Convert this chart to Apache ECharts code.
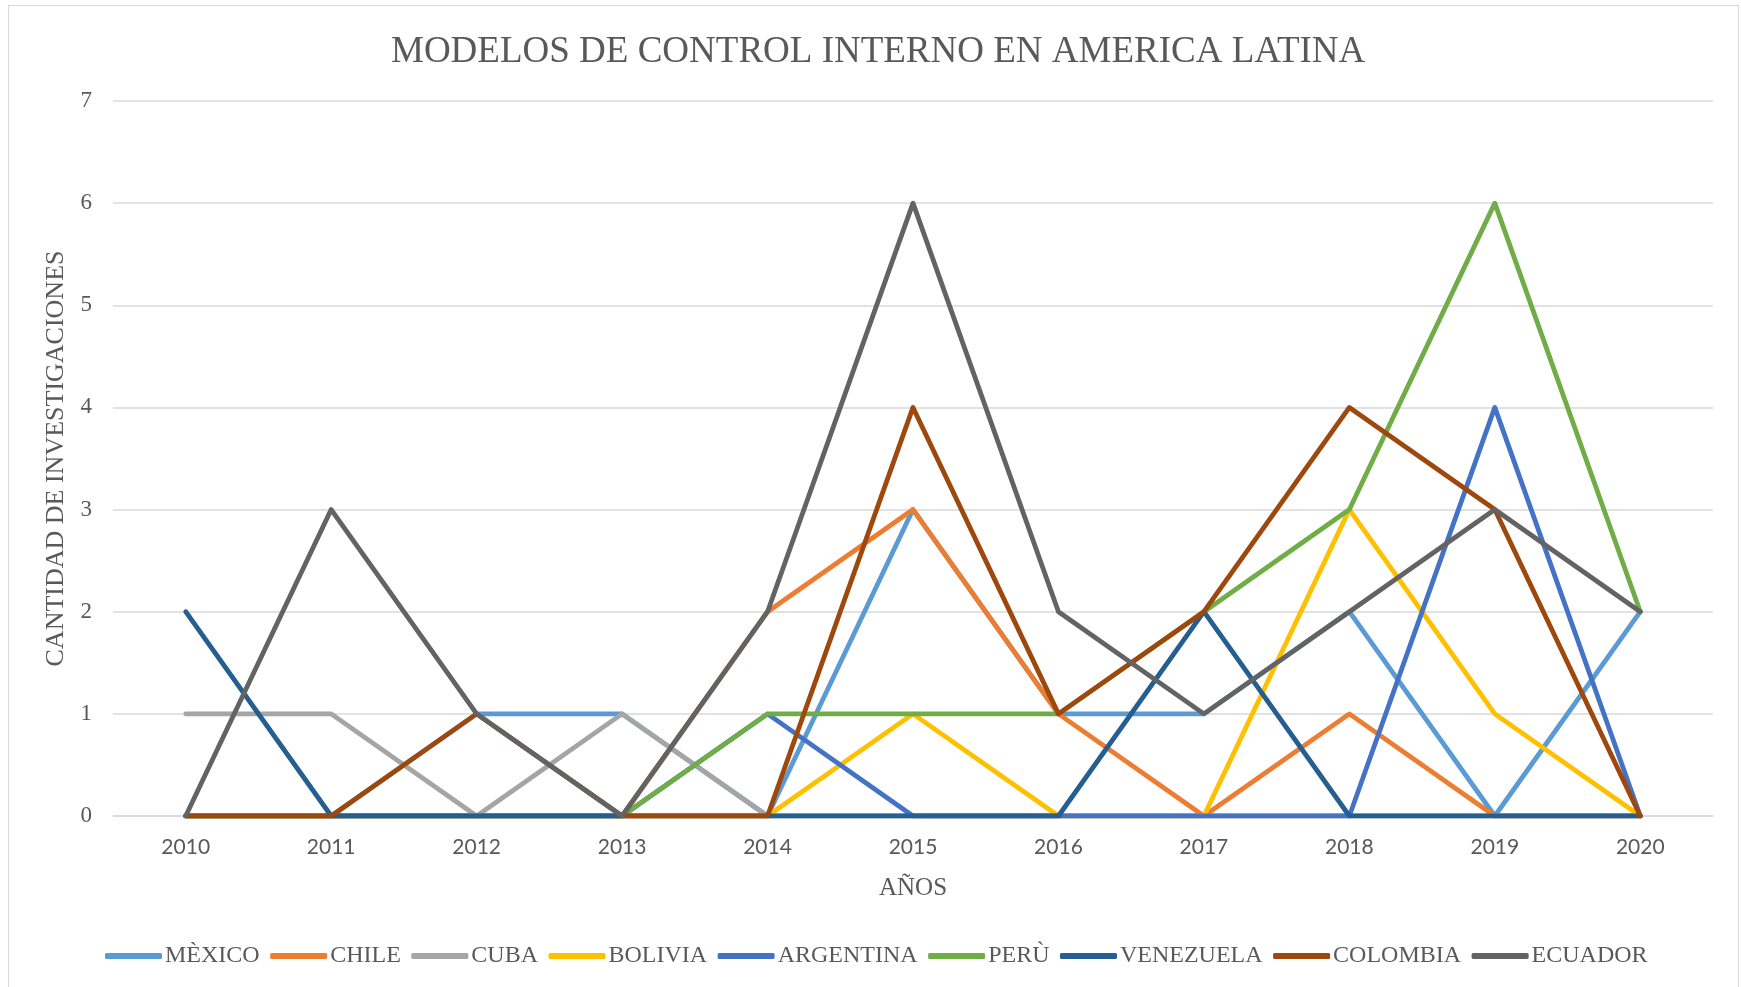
<!DOCTYPE html>
<html>
<head>
<meta charset="utf-8">
<script src="https://cdn.jsdelivr.net/npm/echarts@6/dist/echarts.min.js"></script>
<style>
  html, body { margin: 0; padding: 0; background: #fff; }
  #frame { position: absolute; left: 8px; top: 5px; width: 1731px; height: 990px; border: 1px solid #D9D9D9; box-sizing: border-box; }
  #chart { position: absolute; left: 0; top: 0; width: 1741px; height: 987px; }
</style>
</head>
<body>
<div id="frame"></div>
<div id="chart"></div>
<script>
const years = ['2010','2011','2012','2013','2014','2015','2016','2017','2018','2019','2020'];
const mexico    = [0, 0, 1, 1, 0, 3, 1, 1, 2, 0, 2];
const chile     = [0, 0, 0, 0, 2, 3, 1, 0, 1, 0, 0];
const cuba      = [1, 1, 0, 1, 0, 0, 0, 0, 0, 0, 0];
const bolivia   = [0, 0, 0, 0, 0, 1, 0, 0, 3, 1, 0];
const argentina = [0, 0, 0, 0, 1, 0, 0, 0, 0, 4, 0];
const peru      = [0, 0, 0, 0, 1, 1, 1, 2, 3, 6, 2];
const venezuela = [2, 0, 0, 0, 0, 0, 0, 2, 0, 0, 0];
const colombia  = [0, 0, 1, 0, 0, 4, 1, 2, 4, 3, 0];
const ecuador   = [0, 3, 1, 0, 2, 6, 2, 1, 2, 3, 2];

const seriesDefs = [
  ['MÈXICO', mexico, '#5B9BD5'],
  ['CHILE', chile, '#ED7D31'],
  ['CUBA', cuba, '#A5A5A5'],
  ['BOLIVIA', bolivia, '#FFC000'],
  ['ARGENTINA', argentina, '#4472C4'],
  ['PERÙ', peru, '#70AD47'],
  ['VENEZUELA', venezuela, '#255E91'],
  ['COLOMBIA', colombia, '#9E480E'],
  ['ECUADOR', ecuador, '#636363']
];

const chart = echarts.init(document.getElementById('chart'));
chart.setOption({
  animation: false,
  title: {
    text: 'MODELOS DE CONTROL INTERNO EN AMERICA LATINA',
    left: 386,
    top: 29,
    textStyle: { fontFamily: 'Liberation Serif', fontSize: 37, fontWeight: 'normal', color: '#595959' }
  },
  legend: {
    left: 100,
    top: 939,
    icon: 'roundRect',
    itemWidth: 57,
    itemHeight: 6,
    itemGap: 10.5,
    textStyle: { fontFamily: 'Liberation Serif', fontSize: 24, color: '#595959', padding: [0, 0, 0, -2] },
    data: seriesDefs.map(d => d[0])
  },
  grid: { left: 113, right: 28, top: 101, bottom: 171, containLabel: false },
  xAxis: {
    type: 'category',
    data: years,
    boundaryGap: true,
    name: 'AÑOS',
    nameLocation: 'middle',
    nameGap: 60,
    nameTextStyle: { fontFamily: 'Liberation Serif', fontSize: 25, color: '#595959' },
    axisLine: { show: true, lineStyle: { color: '#D9D9D9', width: 1.5 } },
    axisTick: { show: false },
    axisLabel: { fontFamily: 'Lato', fontSize: 21, color: '#595959', margin: 21 },
    splitLine: { show: false }
  },
  yAxis: {
    type: 'value',
    min: 0,
    max: 7,
    interval: 1,
    name: 'CANTIDAD DE INVESTIGACIONES',
    nameLocation: 'middle',
    nameGap: 43,
    nameTextStyle: { fontFamily: 'Liberation Serif', fontSize: 26, color: '#595959' },
    axisLine: { show: false },
    axisTick: { show: false },
    axisLabel: { fontFamily: 'Liberation Serif', fontSize: 23, color: '#595959', margin: 21 },
    splitLine: { lineStyle: { color: '#D9D9D9', width: 1.5 } }
  },
  series: seriesDefs.map(d => ({
    name: d[0],
    type: 'line',
    data: d[1],
    symbol: 'none',
    color: d[2],
    lineStyle: { width: 4.8, color: d[2], cap: 'round', join: 'round' },
    itemStyle: { color: d[2] }
  }))
});
</script>
</body>
</html>
